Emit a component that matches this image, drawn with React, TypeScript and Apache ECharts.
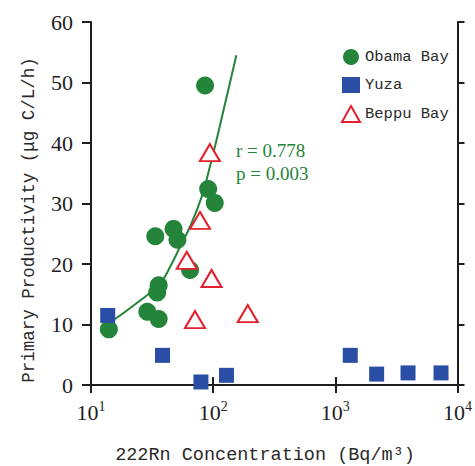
import React, { useEffect, useRef } from "react";
import * as echarts from "echarts";

// Obama Bay: [Rn (Bq/m3), productivity]
const obamaBay: [number, number][] = [
  [14.0, 9.2],
  [28.9, 12.1],
  [35.8, 10.9],
  [35.8, 16.5],
  [34.8, 15.3],
  [64.7, 19.0],
  [33.6, 24.6],
  [47.4, 25.8],
  [51.0, 24.0],
  [91.0, 32.4],
  [103.0, 30.1],
  [85.8, 49.5],
];
const yuza: [number, number][] = [
  [13.7, 11.5],
  [38.5, 4.9],
  [79.4, 0.5],
  [128.5, 1.6],
  [1325, 4.9],
  [2178, 1.8],
  [3935, 2.0],
  [7330, 2.0],
];
const beppuBay: [number, number][] = [
  [94, 38.4],
  [78, 27.2],
  [60.8, 20.6],
  [97, 17.6],
  [71, 10.8],
  [192, 11.8],
];
// fitted curve, points
const fitCurve: [number, number][] = [
  [14.0, 10.2],
  [25.4, 14.0],
  [37.0, 16.9],
  [44.6, 19.6],
  [53.7, 22.9],
  [64.7, 26.2],
  [80.5, 31.1],
  [91.1, 35.0],
  [109.8, 41.6],
  [154.9, 54.5],
];
const seriesNames = ["Obama Bay", "Yuza", "Beppu Bay"];
const statLines = ["r = 0.778", "p = 0.003"];
const xName = "222Rn Concentration (Bq/m³)";
const yName = "Primary Productivity (μg C/L/h)";

const GREEN = "#24843a";
const BLUE = "#2a4ea6";
const RED = "#e4202c";
const AXIS = "#1e1e1e";
const SERIF = "'Liberation Serif', 'DejaVu Serif', serif";
const MONO = "'Liberation Mono', 'DejaVu Sans Mono', monospace";

export default function App() {
  const ref = useRef<HTMLDivElement>(null);
  useEffect(() => {
    document.body.style.margin = "0";
    const chart = echarts.init(ref.current!, null, { renderer: "svg" });
    const axisLine = { show: true, lineStyle: { color: AXIS, width: 2 } };
    const option: any = {
      animation: false,
      backgroundColor: "#ffffff",
      grid: { left: 91, right: 15, top: 22, bottom: 81 },
      xAxis: [
        {
          type: "log",
          logBase: 10,
          min: 10,
          max: 10000,
          axisLine,
          axisTick: { show: true, length: 8, lineStyle: { color: AXIS, width: 2 } },
          splitLine: { show: false },
          minorTick: { show: false },
          axisLabel: {
            margin: 14,
            formatter: (v: number) => `{b|10}{s|${Math.round(Math.log10(v))}}`,
            rich: {
              b: { fontFamily: SERIF, fontSize: 22, color: AXIS },
              s: { fontFamily: SERIF, fontSize: 14, color: AXIS, verticalAlign: "top", padding: [0, 0, 12, 0] },
            },
          },
        },
        {
          type: "log",
          logBase: 10,
          min: 10,
          max: 10000,
          position: "top",
          axisLine,
          axisTick: { show: true, length: 8, lineStyle: { color: AXIS, width: 2 } },
          axisLabel: { show: false },
          splitLine: { show: false },
        },
      ],
      yAxis: [
        {
          type: "value",
          min: 0,
          max: 60,
          interval: 10,
          axisLine,
          axisTick: { show: true, length: 9, lineStyle: { color: AXIS, width: 2 } },
          splitLine: { show: false },
          axisLabel: { margin: 18, fontFamily: SERIF, fontSize: 22, color: AXIS },
        },
        {
          type: "value",
          min: 0,
          max: 60,
          interval: 10,
          position: "right",
          axisLine,
          axisTick: { show: true, length: 7, lineStyle: { color: AXIS, width: 2 } },
          axisLabel: { show: false },
          splitLine: { show: false },
        },
      ],
      legend: {
        orient: "vertical",
        left: 336,
        top: 44,
        itemWidth: 18,
        itemHeight: 16,
        itemGap: 12,
        data: seriesNames,
        textStyle: { fontFamily: MONO, fontSize: 15.5, color: "#2a2a2a" },
      },
      graphic: [
        ...statLines.map((t, i) => ({
          type: "text",
          left: 236,
          top: 141 + i * 23,
          style: { text: t, fill: GREEN, font: `19px ${SERIF}` },
        })),
        {
          type: "text",
          x: 265,
          y: 455,
          style: { text: xName, fill: "#2a2a2a", font: `18.5px ${MONO}`, align: "center", verticalAlign: "middle" },
        },
        {
          type: "text",
          x: 29,
          y: 220,
          rotation: Math.PI / 2,
          style: { text: yName, fill: "#2a2a2a", font: `17.5px ${MONO}`, align: "center", verticalAlign: "middle" },
        },
      ],
      series: [
        {
          name: "fit",
          type: "line",
          data: fitCurve,
          smooth: true,
          showSymbol: false,
          symbol: "none",
          lineStyle: { color: GREEN, width: 2 },
          z: 1,
        },
        {
          name: seriesNames[0],
          type: "scatter",
          data: obamaBay,
          symbol: "circle",
          symbolSize: 18,
          itemStyle: { color: GREEN, opacity: 1 },
          z: 3,
        },
        {
          name: seriesNames[1],
          type: "scatter",
          data: yuza,
          symbol: "rect",
          symbolSize: 15,
          itemStyle: { color: BLUE, opacity: 1 },
          z: 3,
        },
        {
          name: seriesNames[2],
          type: "scatter",
          data: beppuBay,
          symbol: "emptyTriangle",
          symbolSize: [20, 17],
          itemStyle: { color: RED, borderColor: RED, borderWidth: 2, opacity: 1 },
          z: 4,
        },
      ],
    };
    chart.setOption(option);
    return () => chart.dispose();
  }, []);
  return <div ref={ref} style={{ width: 475, height: 466 }} />;
}
